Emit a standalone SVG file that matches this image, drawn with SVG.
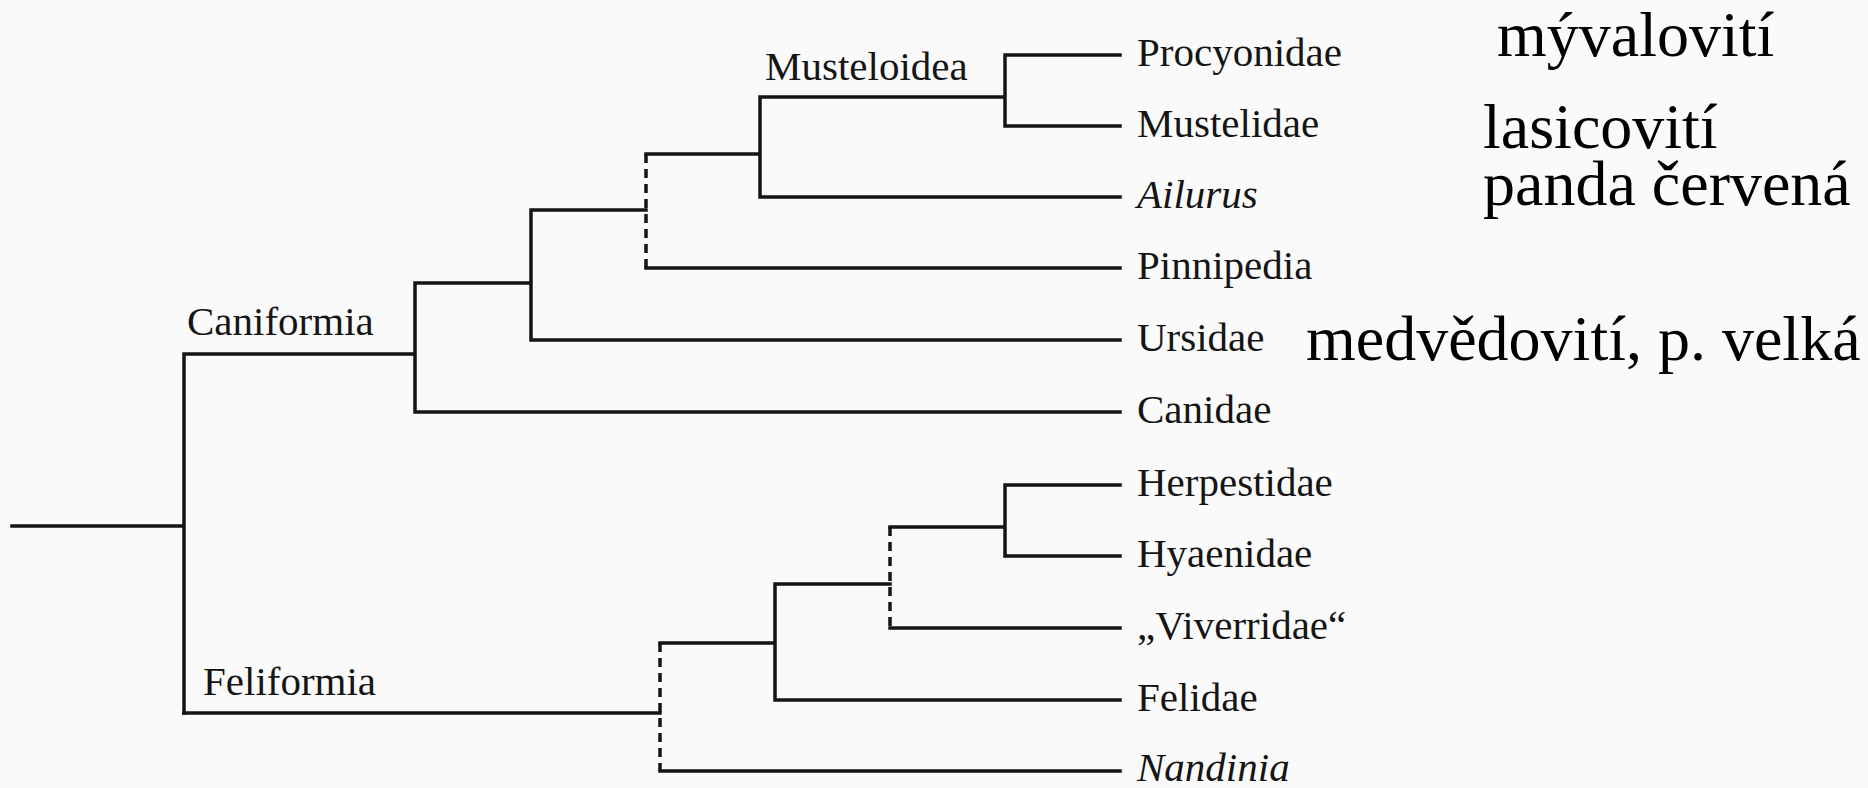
<svg xmlns="http://www.w3.org/2000/svg" width="1868" height="788" viewBox="0 0 1868 788">
<style>
.ln{stroke:#151515;stroke-width:3.5;fill:none;stroke-linecap:square}
.ds{stroke:#151515;stroke-width:3.5;fill:none;stroke-dasharray:9 6}
.lf{font-family:"Liberation Serif","Times New Roman",serif;font-size:41px;fill:#151515}
.it{font-style:italic}
.cl{font-family:"Liberation Serif","Times New Roman",serif;font-size:41px;fill:#151515}
.cz{font-family:"Liberation Serif","Times New Roman",serif;font-size:64px;fill:#000}
</style>
<rect x="0" y="0" width="1868" height="788" fill="#fafafa"/>
<g id="connectors">
<path class="ln" d="M12 526H184M184 354V713M184 354H415M415 283V412H1120M415 283H531M531 210V340H1120M531 210H646M646 268H1120M646 154H760M760 97V197H1120M760 97H1005M1005 55V126M1005 55H1120M1005 126H1120"/>
<path class="ds" d="M646 154V268"/>
<path class="ln" d="M184 713H660M660 643H775M775 584V700H1120M775 584H890M890 628H1120M890 527H1005M1005 485V556M1005 485H1120M1005 556H1120M660 771H1120"/>
<path class="ds" d="M660 643V771M890 527V628"/>
</g>
<g id="clades">
<text class="cl" x="187" y="335">Caniformia</text>
<text class="cl" x="765" y="80">Musteloidea</text>
<text class="cl" x="203" y="695">Feliformia</text>
</g>
<g id="leaves">
<text class="lf" x="1137" y="66">Procyonidae</text>
<text class="lf" x="1137" y="137">Mustelidae</text>
<text class="lf it" x="1137" y="208">Ailurus</text>
<text class="lf" x="1137" y="279">Pinnipedia</text>
<text class="lf" x="1137" y="351">Ursidae</text>
<text class="lf" x="1137" y="423">Canidae</text>
<text class="lf" x="1137" y="496">Herpestidae</text>
<text class="lf" x="1137" y="567">Hyaenidae</text>
<text class="lf" x="1137" y="639">„Viverridae“</text>
<text class="lf" x="1137" y="711">Felidae</text>
<text class="lf it" x="1137" y="781">Nandinia</text>
</g>
<g id="czech">
<text class="cz" x="1497" y="56">mývalovití</text>
<text class="cz" x="1483" y="148">lasicovití</text>
<text class="cz" x="1483" y="205">panda červená</text>
<text class="cz" x="1306" y="360">medvědovití, p. velká</text>
</g>
</svg>
